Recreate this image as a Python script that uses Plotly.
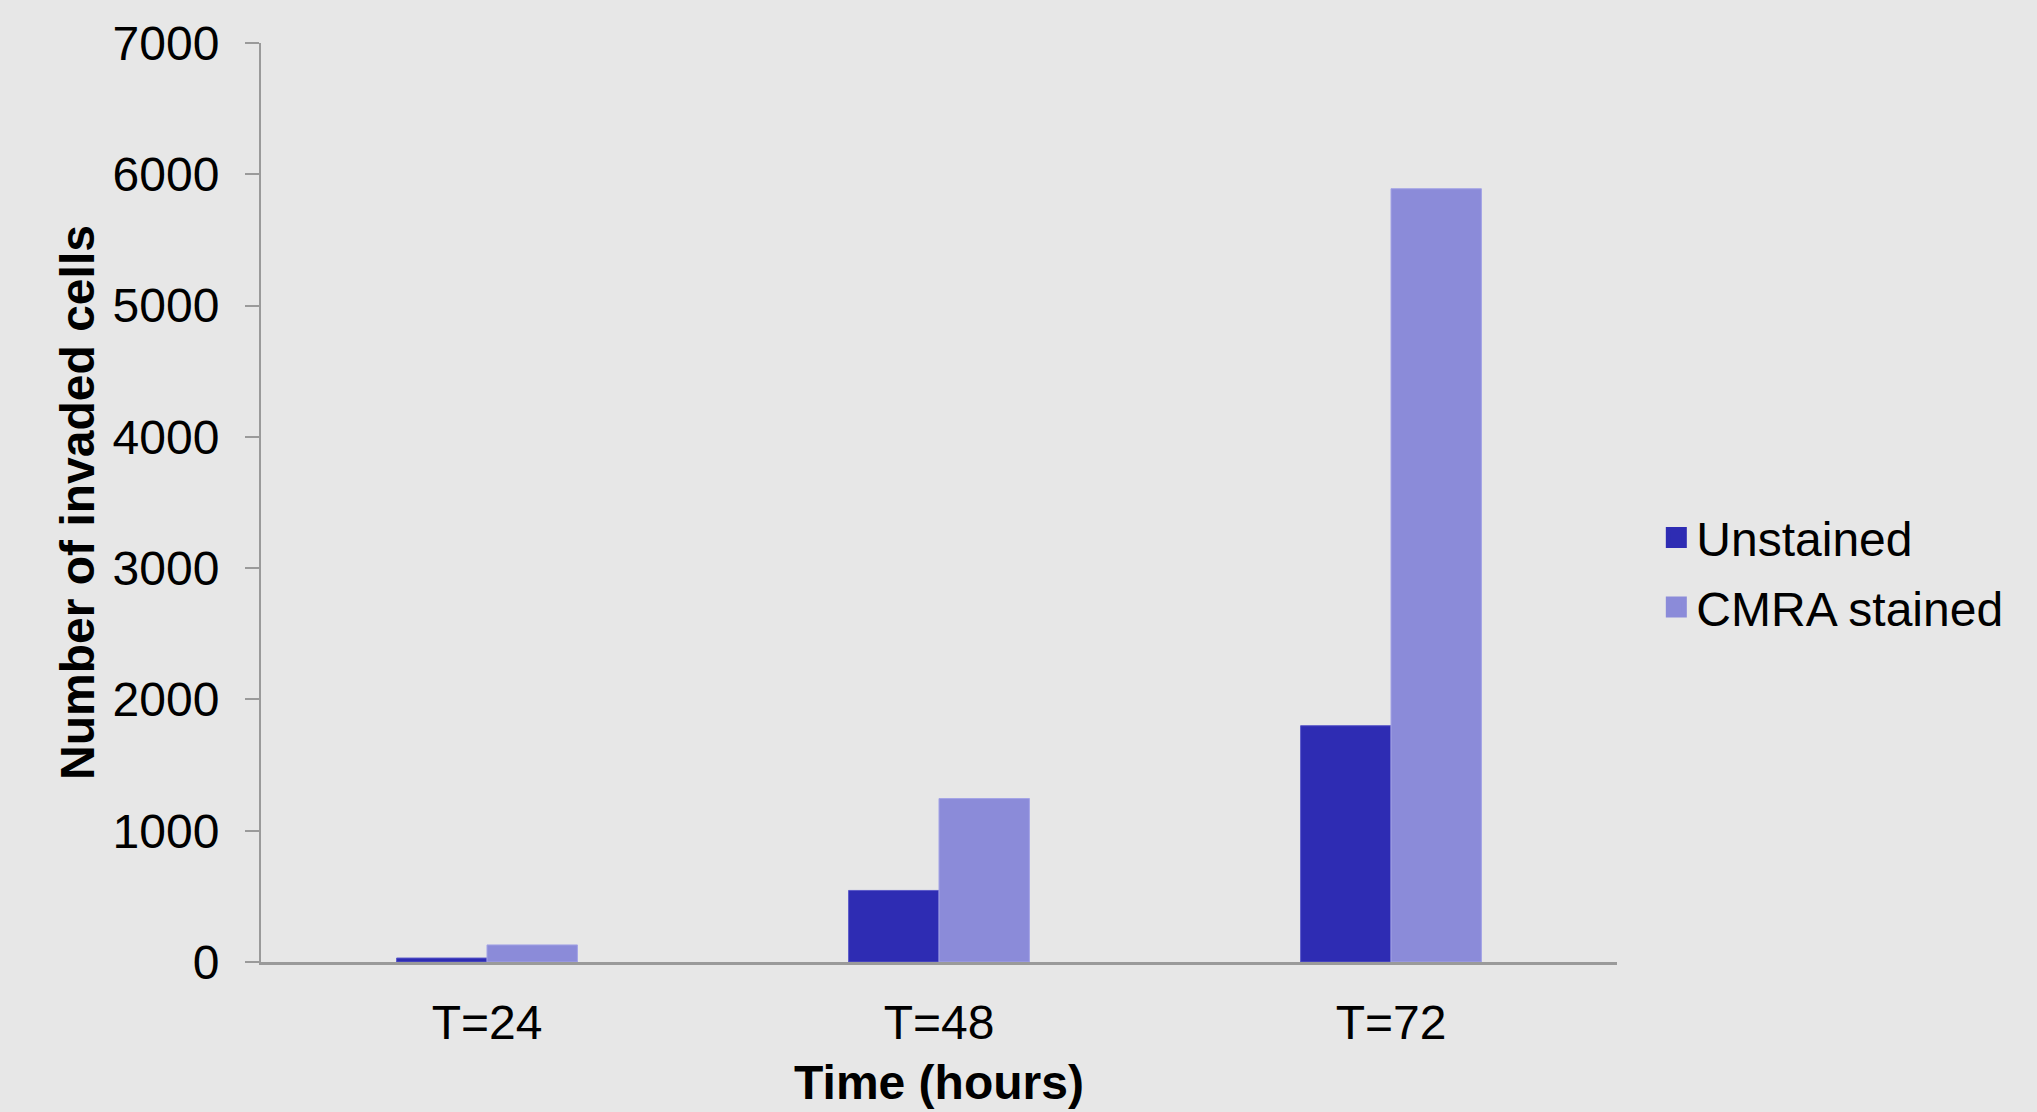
import plotly.graph_objects as go

categories = ["T=24", "T=48", "T=72"]
unstained = [30, 545, 1800]
cmra_stained = [130, 1245, 5890]
series_names = ["Unstained", "CMRA stained"]
series_colors = ["#2e2cb3", "#8b8bd9"]
y_ticks = [0, 1000, 2000, 3000, 4000, 5000, 6000, 7000]

FONT = "Liberation Sans, Arial, sans-serif"
BG = "#e7e7e7"

fig = go.Figure()
fig.add_trace(go.Bar(x=categories, y=unstained, name=series_names[0], showlegend=False,
                     legendgroup="a",
                     marker=dict(color=series_colors[0], line=dict(color="#5a58c8", width=1))))
fig.add_trace(go.Bar(x=categories, y=cmra_stained, name=series_names[1], showlegend=False,
                     legendgroup="b",
                     marker=dict(color=series_colors[1], line=dict(color="#a3a3e6", width=1))))
# legend entries (larger square swatches like the original)
for name, col, grp in zip(series_names, series_colors, ["a", "b"]):
    fig.add_trace(go.Scatter(x=[None], y=[None], mode="markers", name=name, legendgroup=grp,
                             marker=dict(symbol="square", size=16, color=col,
                                         line=dict(color=col, width=8))))

fig.update_layout(
    width=2037, height=1112,
    margin=dict(l=261, r=420, t=43, b=150, autoexpand=False),
    paper_bgcolor=BG, plot_bgcolor=BG,
    font=dict(family=FONT, size=48, color="black"),
    barmode="group", bargap=0.6, bargroupgap=0,
    showlegend=True,
    legend=dict(x=1.029, y=0.424, xanchor="left", yanchor="middle",
                font=dict(size=48), bgcolor="rgba(0,0,0,0)",
                traceorder="grouped", tracegroupgap=4),
    xaxis=dict(
        showgrid=False, showline=True, linecolor="#9a9a9a", linewidth=3,
        ticks="", ticklabelstandoff=16,
        title=dict(text="<b>Time (hours)</b>", font=dict(size=48), standoff=18),
    ),
    yaxis=dict(
        range=[0, 7000], tickvals=y_ticks, showgrid=False, zeroline=False,
        showline=True, linecolor="#9a9a9a", linewidth=2,
        ticks="outside", ticklen=14, tickcolor="#9a9a9a", tickwidth=2,
        ticklabelstandoff=16,
        title=dict(text="<b>Number of invaded cells</b>", font=dict(size=48), standoff=3),
    ),
)

fig.write_html("out.html", config={"displayModeBar": False},
               post_script="document.body.style.margin='0';")
